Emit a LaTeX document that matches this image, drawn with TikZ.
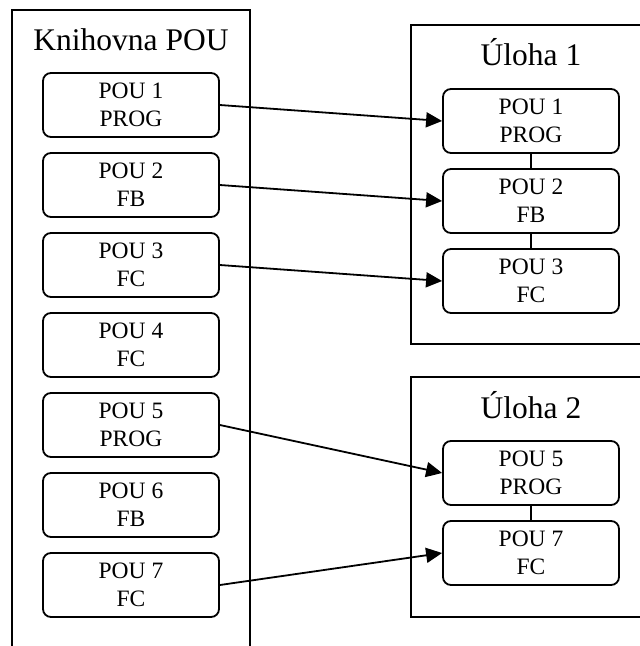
\documentclass[tikz,border=0pt]{standalone}
\usepackage{fontspec}
\setmainfont{Liberation Serif}
\usetikzlibrary{arrows.meta}
\tikzstyle{pou}=[draw, rounded corners=8pt, minimum width=176pt, minimum height=64pt,
    inner sep=0pt, align=center, font=\fontsize{23.5}{28}\selectfont]
\tikzstyle{title}=[anchor=base, font=\fontsize{31.5}{36}\selectfont]
\tikzstyle{link}=[-{Triangle[length=16pt, width=15pt]}]

\begin{document}
\begin{tikzpicture}[x=1pt, y=-1pt, line width=1.8pt]
    \useasboundingbox (0,0) rectangle (640,646);
    \clip (0,0) rectangle (640,646);
% Containers
    \draw (12,10) rectangle (250,700);
    \draw (411,25) rectangle (700,344);
    \draw (411,377) rectangle (700,617);
    \node[title] (knihovna) at (131,50) {Knihovna POU};
    \node[title] (uloha1) at (531,65) {Úloha 1};
    \node[title] (uloha2) at (531,418) {Úloha 2};
% Library
    \node[pou] (lib1) at (131,105) {POU 1\\PROG};
    \node[pou] (lib2) at (131,185) {POU 2\\FB};
    \node[pou] (lib3) at (131,265) {POU 3\\FC};
    \node[pou] (lib4) at (131,345) {POU 4\\FC};
    \node[pou] (lib5) at (131,425) {POU 5\\PROG};
    \node[pou] (lib6) at (131,505) {POU 6\\FB};
    \node[pou] (lib7) at (131,585) {POU 7\\FC};
% Tasks
    \node[pou] (task1a) at (531,121) {POU 1\\PROG};
    \node[pou] (task1b) at (531,201) {POU 2\\FB};
    \node[pou] (task1c) at (531,281) {POU 3\\FC};
    \node[pou] (task2a) at (531,473) {POU 5\\PROG};
    \node[pou] (task2b) at (531,553) {POU 7\\FC};
    \draw (task1a) -- (task1b);
    \draw (task1b) -- (task1c);
    \draw (task2a) -- (task2b);
% Assignments
    \draw[link] (lib1.east) -- (task1a.west);
    \draw[link] (lib2.east) -- (task1b.west);
    \draw[link] (lib3.east) -- (task1c.west);
    \draw[link] (lib5.east) -- (task2a.west);
    \draw[link] (lib7.east) -- (task2b.west);
\end{tikzpicture}
\end{document}
